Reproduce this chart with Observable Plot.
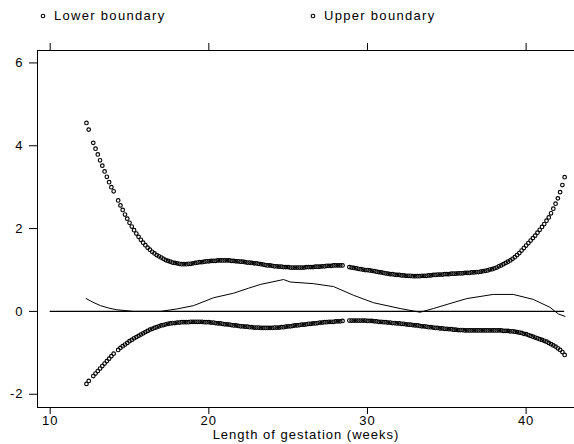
<!DOCTYPE html>
<html>
<head>
<meta charset="utf-8">
<script src="https://cdn.jsdelivr.net/npm/d3@7"></script>
<script src="https://cdn.jsdelivr.net/npm/@observablehq/plot@0.6"></script>
<style>
  html, body { margin: 0; padding: 0; background: #fff; }
  #chart { position: relative; width: 574px; height: 444px; font-family: "Liberation Sans", Arial, Helvetica, sans-serif; color: #000; }
  .legend { position: relative; height: 32px; font-size: 13px; letter-spacing: 1.3px; }
  .legend svg { position: absolute; top: 12px; }
  .legend span { position: absolute; top: 0; line-height: 32px; white-space: nowrap; }
  #chart > svg { display: block; }
</style>
</head>
<body>
<div id="chart"></div>
<script>
// Gestational age is recorded per day; the first value belongs to day 86.
const firstDay = 86;

// Upper boundary, one value per day (null = no observation that day).
const upperBoundary = [
  4.55, 4.39, null, 4.07, 3.93, 3.79, 3.65,
  3.52, 3.38, 3.25, 3.12, 3.00, 2.90, null,
  2.68, 2.56, 2.45, 2.34, 2.24, 2.14, 2.05,
  1.96, 1.88, 1.80, 1.73, 1.66, 1.60, 1.54,
  1.49, 1.44, 1.40, 1.36, 1.33, 1.30, 1.27,
  1.24, 1.22, 1.20, 1.18, 1.17, 1.16, 1.15,
  1.14, 1.14, 1.14, 1.15, 1.15, 1.16, 1.17,
  1.18, 1.19, 1.19, 1.20, 1.21, 1.21, 1.22,
  1.22, 1.22, 1.23, 1.23, 1.23, 1.23, 1.23,
  1.23, 1.22, 1.22, 1.21, 1.21, 1.20, 1.20,
  1.19, 1.18, 1.18, 1.17, 1.16, 1.16, 1.15,
  1.14, 1.13, 1.12, 1.11, 1.11, 1.10, 1.09,
  1.09, 1.08, 1.08, 1.07, 1.07, 1.07, 1.06,
  1.06, 1.06, 1.06, 1.06, 1.06, 1.06, 1.07,
  1.07, 1.07, 1.07, 1.08, 1.08, 1.08, 1.09,
  1.09, 1.10, 1.10, 1.10, 1.11, 1.11, 1.11,
  1.11, 1.11, null, null, 1.07, 1.06, 1.05,
  1.04, 1.03, 1.02, 1.01, 1.00, 1.00, 0.99,
  0.98, 0.97, 0.96, 0.95, 0.94, 0.93, 0.92,
  0.91, 0.90, 0.90, 0.89, 0.88, 0.88, 0.87,
  0.87, 0.86, 0.86, 0.86, 0.85, 0.85, 0.85,
  0.85, 0.86, 0.86, 0.86, 0.87, 0.87, 0.88,
  0.88, 0.89, 0.89, 0.89, 0.90, 0.90, 0.90,
  0.91, 0.91, 0.91, 0.92, 0.92, 0.92, 0.93,
  0.93, 0.93, 0.94, 0.94, 0.95, 0.95, 0.96,
  0.97, 0.98, 0.99, 1.01, 1.02, 1.04, 1.06,
  1.09, 1.11, 1.14, 1.17, 1.20, 1.23, 1.27,
  1.31, 1.36, 1.41, 1.47, 1.53, 1.59, 1.65,
  1.71, 1.77, 1.83, 1.90, 1.97, 2.04, 2.11,
  2.19, 2.27, 2.37, 2.48, 2.60, 2.73, 2.88,
  3.05, 3.24
];

// Lower boundary, one value per day (null = no observation that day).
const lowerBoundary = [
  -1.75, -1.68, null, -1.56, -1.50, -1.44, -1.38,
  -1.32, -1.26, -1.20, -1.14, -1.08, -1.02, null,
  -0.93, -0.88, -0.84, -0.80, -0.76, -0.72, -0.69,
  -0.65, -0.62, -0.59, -0.56, -0.53, -0.50, -0.47,
  -0.44, -0.42, -0.40, -0.38, -0.36, -0.34, -0.33,
  -0.31, -0.30, -0.29, -0.28, -0.28, -0.27, -0.27,
  -0.26, -0.26, -0.26, -0.26, -0.25, -0.25, -0.25,
  -0.25, -0.25, -0.25, -0.26, -0.26, -0.26, -0.27,
  -0.27, -0.28, -0.29, -0.29, -0.30, -0.31, -0.31,
  -0.32, -0.33, -0.34, -0.34, -0.35, -0.36, -0.36,
  -0.37, -0.37, -0.38, -0.38, -0.39, -0.39, -0.39,
  -0.40, -0.40, -0.40, -0.40, -0.40, -0.40, -0.39,
  -0.39, -0.39, -0.38, -0.38, -0.37, -0.36, -0.36,
  -0.35, -0.34, -0.34, -0.33, -0.32, -0.32, -0.31,
  -0.30, -0.30, -0.29, -0.29, -0.28, -0.27, -0.27,
  -0.26, -0.26, -0.25, -0.25, -0.25, -0.24, -0.24,
  -0.24, -0.23, null, null, -0.22, -0.22, -0.22,
  -0.22, -0.22, -0.22, -0.22, -0.22, -0.23, -0.23,
  -0.23, -0.24, -0.24, -0.25, -0.25, -0.26, -0.26,
  -0.27, -0.27, -0.28, -0.28, -0.29, -0.29, -0.30,
  -0.30, -0.31, -0.32, -0.32, -0.33, -0.34, -0.34,
  -0.35, -0.36, -0.36, -0.37, -0.38, -0.38, -0.39,
  -0.40, -0.40, -0.41, -0.41, -0.42, -0.42, -0.43,
  -0.43, -0.44, -0.44, -0.45, -0.45, -0.45, -0.46,
  -0.46, -0.46, -0.46, -0.46, -0.46, -0.46, -0.46,
  -0.46, -0.46, -0.46, -0.46, -0.46, -0.46, -0.46,
  -0.46, -0.46, -0.47, -0.47, -0.47, -0.48, -0.48,
  -0.49, -0.50, -0.51, -0.52, -0.54, -0.55, -0.57,
  -0.59, -0.61, -0.63, -0.65, -0.67, -0.69, -0.71,
  -0.73, -0.76, -0.79, -0.82, -0.85, -0.89, -0.93,
  -0.98, -1.05
];

// Smoothed estimate drawn as a solid line (weeks, value).
const curveWeeks  = [12.27, 12.7, 13.17, 13.7, 14.2, 15.26, 16.95, 18.0, 19.04, 20.3, 21.56, 22.5, 23.24, 24.71, 25.13, 26.6, 27.86, 29.12, 30.38, 32.06, 33.32, 34.16, 35.2, 36.26, 37.93, 39.19, 40.45, 41.5, 42.03, 42.45];
const curveValues = [0.31, 0.22, 0.14, 0.08, 0.04, 0.00, 0.00, 0.06, 0.14, 0.33, 0.44, 0.56, 0.65, 0.77, 0.71, 0.67, 0.60, 0.39, 0.21, 0.07, -0.02, 0.07, 0.19, 0.31, 0.41, 0.41, 0.29, 0.10, -0.06, -0.12];

// Axes and labels
const xTicks = [10, 20, 30, 40];
const yTicks = [-2, 0, 2, 4, 6];
const xDomain = [9.2, 43.05];
const yDomain = [-2.32, 6.3];
const zeroLineStart = 10;
const xLabel = "Length of gestation (weeks)";
const seriesLabels = ["Lower boundary", "Upper boundary"];

const toRows = values => values
  .map((value, i) => ({week: (firstDay + i) / 7, value}))
  .filter(d => d.value != null);

const upperRows = toRows(upperBoundary);
const lowerRows = toRows(lowerBoundary);
const curveRows = curveWeeks.map((week, i) => ({week, value: curveValues[i]}));
const lastWeek = (firstDay + upperBoundary.length - 1) / 7;

const fontFamily = '"Liberation Sans", Arial, Helvetica, sans-serif';
const dotStyle = {x: "week", y: "value", r: 1.8, stroke: "#000", strokeWidth: 1.15, fill: "none"};

const chart = Plot.plot({
  width: 574,
  height: 412,
  marginTop: 18,
  marginBottom: 37,
  marginLeft: 37,
  marginRight: 0,
  x: {domain: xDomain},
  y: {domain: yDomain},
  style: {fontFamily, fontSize: "13px", color: "#000", background: "#fff", letterSpacing: "1px"},
  marks: [
    Plot.ruleY([0], {x1: zeroLineStart, x2: lastWeek, stroke: "#000", strokeWidth: 1.2}),
    Plot.line(curveRows, {x: "week", y: "value", stroke: "#000", strokeWidth: 1}),
    Plot.dot(upperRows, dotStyle),
    Plot.dot(lowerRows, dotStyle),
    // frame on left, bottom and top
    Plot.ruleX([xDomain[0]], {stroke: "#000"}),
    Plot.ruleY([yDomain[0]], {stroke: "#000"}),
    Plot.ruleY([yDomain[1]], {stroke: "#000"}),
    Plot.axisY({ticks: yTicks, tickSize: 8, tickPadding: 6, tickFormat: d => String(d), label: null, stroke: "#000"}),
    Plot.axisX({ticks: xTicks, tickSize: 7, tickPadding: 1, tickFormat: d => String(d), label: null, stroke: "#000"}),
    Plot.axisX({anchor: "top", ticks: xTicks, tickSize: 8, tickFormat: () => "", label: null, stroke: "#000"}),
    Plot.text([xLabel], {frameAnchor: "bottom", dy: 31, text: d => d, fill: "#000"})
  ]
});

// Legend row above the plot
const root = document.getElementById("chart");
const legend = document.createElement("div");
legend.className = "legend";
const legendX = [43, 313];
seriesLabels.forEach((label, i) => {
  const svg = d3.create("svg").attr("width", 8).attr("height", 8)
    .style("left", (legendX[i] - 4) + "px");
  svg.append("circle").attr("cx", 4).attr("cy", 4).attr("r", 1.8)
    .attr("fill", "none").attr("stroke", "#000").attr("stroke-width", 1.1);
  legend.appendChild(svg.node());
  const span = document.createElement("span");
  span.textContent = label;
  span.style.left = (legendX[i] + 11) + "px";
  legend.appendChild(span);
});
root.appendChild(legend);
root.appendChild(chart);
</script>
</body>
</html>
